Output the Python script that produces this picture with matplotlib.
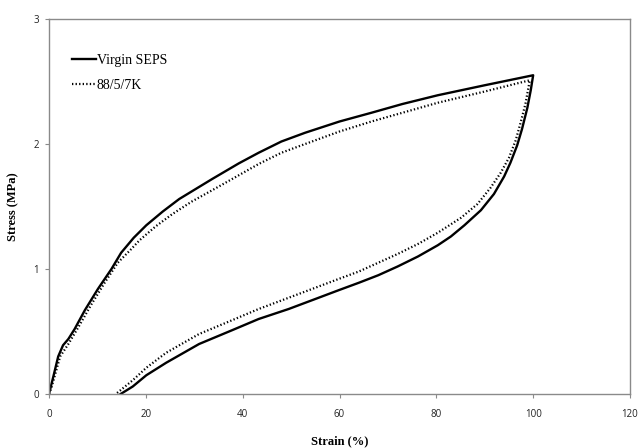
import matplotlib
matplotlib.use("Agg")
import matplotlib.pyplot as plt

# Virgin SEPS - loading
seps_load_strain = [0, 0.9, 1.9, 2.9, 4.0, 5.3, 7.4, 10.1, 12.9, 14.9, 17.5, 20.1, 23.5, 26.9, 30.3,
                    33.7, 39.2, 43.3, 48, 52.9, 60, 66.6, 73, 80.3, 90, 100]
seps_load_stress = [0, 0.14, 0.30, 0.39, 0.44, 0.52, 0.67, 0.84, 1.00, 1.13, 1.25, 1.35, 1.46, 1.56, 1.64,
                    1.72, 1.845, 1.93, 2.02, 2.09, 2.18, 2.25, 2.32, 2.39, 2.47, 2.55]
# Virgin SEPS - unloading
seps_unload_strain = [100, 99.5, 98.8, 97.7, 96.7, 95.3, 94.0, 91.9, 89.2, 85.8, 83.0, 80.3, 76.2, 72, 68, 64,
                      59.8, 55, 49.5, 43.3, 37.8, 31.0, 24.2, 20.1, 17.3, 14.8]
seps_unload_stress = [2.55, 2.43, 2.29, 2.12, 1.99, 1.85, 1.74, 1.60, 1.47, 1.35, 1.26, 1.19, 1.10, 1.02, 0.95, 0.89,
                      0.83, 0.76, 0.68, 0.60, 0.51, 0.40, 0.25, 0.15, 0.06, 0.0]

# 88/5/7K - loading
k_load_strain = [0, 0.5, 2.3, 4.0, 6.0, 8.8, 11.5, 14.2, 17.0, 18.7, 22, 25.5, 29.5, 33.7, 39.2, 43.3,
                 48, 52.9, 60, 66.6, 73, 80.3, 90, 99.3]
k_load_stress = [0, 0.05, 0.30, 0.40, 0.53, 0.72, 0.89, 1.05, 1.16, 1.23, 1.34, 1.44, 1.54, 1.63, 1.75, 1.84,
                 1.93, 2.00, 2.10, 2.18, 2.25, 2.33, 2.42, 2.51]
# 88/5/7K - unloading
k_unload_strain = [99.3, 98.4, 97.4, 96.4, 95.0, 93.3, 91.2, 88.5, 85.1, 80.3, 76.2, 72, 68, 64, 59.8, 55,
                   49.5, 43.3, 37.8, 31.0, 24.2, 20.1, 17.3, 13.8]
k_unload_stress = [2.51, 2.32, 2.17, 2.03, 1.89, 1.77, 1.65, 1.52, 1.41, 1.29, 1.20, 1.12, 1.05, 0.98, 0.92, 0.85,
                   0.77, 0.68, 0.59, 0.48, 0.33, 0.21, 0.11, 0.0]

x_ticks = [0, 20, 40, 60, 80, 100, 120]
y_ticks = [0, 1, 2, 3]

fig = plt.figure(figsize=(6.38, 4.48), dpi=100)
ax = fig.add_axes([49/638, 1-394/448, (630-49)/638, (394-19)/448])

ax.plot(seps_load_strain + seps_unload_strain[1:], seps_load_stress + seps_unload_stress[1:],
        color="black", lw=1.7, label="Virgin SEPS", solid_joinstyle="round")
ax.plot(k_load_strain + k_unload_strain[1:], k_load_stress + k_unload_stress[1:],
        color="black", lw=1.6, linestyle=(0, (0.6, 1.0)), label="88/5/7K")

ax.set_xlim(0, 120)
ax.set_ylim(0, 3)
ax.set_xticks(x_ticks)
ax.set_yticks(y_ticks)
for s in ax.spines.values():
    s.set_color("#8a8a8a")
    s.set_linewidth(1.0)
ax.tick_params(axis="both", direction="out", length=3, width=0.8, color="#8a8a8a",
               labelsize=7, labelcolor="#222222")
for lab in ax.get_xticklabels() + ax.get_yticklabels():
    lab.set_family("Open Sans")
ax.tick_params(axis="x", pad=8)
ax.tick_params(axis="y", pad=4)

ax.set_xlabel("Strain (%)", family="Liberation Serif", fontweight="bold", fontsize=9, labelpad=11)
ax.set_ylabel("Stress (MPa)", family="Liberation Serif", fontweight="bold", fontsize=9, labelpad=10)

leg = ax.legend(loc="upper left", bbox_to_anchor=(0.018, 0.94), frameon=False,
                prop={"family": "Liberation Serif", "size": 10},
                handlelength=1.7, handletextpad=0.1, labelspacing=0.85)

fig.savefig("out.png", dpi=100)
